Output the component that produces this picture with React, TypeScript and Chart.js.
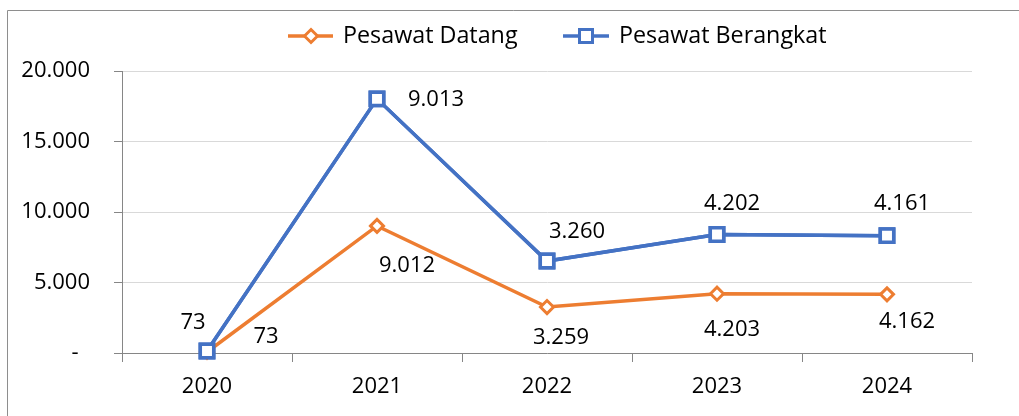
import React, { useEffect, useRef } from "react";
import { Chart, registerables } from "chart.js";

Chart.register(...registerables);

const years = ["2020", "2021", "2022", "2023", "2024"];
const pesawatDatang = [73, 9012, 3259, 4203, 4162];
const pesawatBerangkat = [73, 9013, 3260, 4202, 4161];
const yTicks = [0, 5000, 10000, 15000, 20000];

const ORANGE = "#ED7D31";
const BLUE = "#4472C4";
const FONT = "'Open Sans', 'Noto Sans', sans-serif";
const FS = 22;
const LEGEND_FS = 23.3;

// label offsets (px) relative to each point: [dx, dy]
const datangLabelOffsets = [[59, -15], [30, 40], [14, 31], [15, 36], [20, 27]];
const berangkatLabelOffsets = [[-14, -28], [59, 1], [30, -29], [15, -31], [15, -32]];

const fmt = (v: number) => String(Math.round(v)).replace(/\B(?=(\d{3})+(?!\d))/g, ".");

export default function App() {
  const ref = useRef<HTMLCanvasElement | null>(null);

  useEffect(() => {
    if (!ref.current) return;

    const overlay = {
      id: "overlay",
      afterDatasetsDraw(chart: any) {
        const ctx = chart.ctx;
        // redraw blue series on top
        chart.getDatasetMeta(1).controller.draw();
        ctx.save();
        ctx.font = `${FS}px ${FONT}`;
        ctx.fillStyle = "#000";
        ctx.textAlign = "center";
        ctx.textBaseline = "middle";
        const sets = [
          { meta: chart.getDatasetMeta(0), vals: pesawatDatang, offs: datangLabelOffsets },
          { meta: chart.getDatasetMeta(1), vals: pesawatBerangkat, offs: berangkatLabelOffsets },
        ];
        sets.forEach((s) => {
          s.meta.data.forEach((pt: any, i: number) => {
            ctx.fillText(fmt(s.vals[i]), pt.x + s.offs[i][0], pt.y + s.offs[i][1]);
          });
        });
        ctx.restore();
      },
      afterDraw(chart: any) {
        const ctx = chart.ctx;
        ctx.save();
        // frame
        ctx.strokeStyle = "#8e8e8e";
        ctx.lineWidth = 1;
        ctx.beginPath();
        ctx.moveTo(7.5, 420);
        ctx.lineTo(7.5, 10.5);
        ctx.lineTo(1019, 10.5);
        ctx.stroke();

        // legend
        const ly = 36;
        ctx.lineWidth = 3.5;
        ctx.strokeStyle = ORANGE;
        ctx.beginPath();
        ctx.moveTo(288, ly);
        ctx.lineTo(333, ly);
        ctx.stroke();
        ctx.fillStyle = "#fff";
        ctx.lineWidth = 3;
        ctx.beginPath();
        ctx.moveTo(311 - 6.5, ly);
        ctx.lineTo(311, ly - 6.5);
        ctx.lineTo(311 + 6.5, ly);
        ctx.lineTo(311, ly + 6.5);
        ctx.closePath();
        ctx.fill();
        ctx.stroke();

        ctx.lineWidth = 3.5;
        ctx.strokeStyle = BLUE;
        ctx.beginPath();
        ctx.moveTo(563, ly);
        ctx.lineTo(609, ly);
        ctx.stroke();
        ctx.lineWidth = 3;
        ctx.beginPath();
        ctx.rect(586 - 6.5, ly - 6.5, 13, 13);
        ctx.fill();
        ctx.stroke();

        ctx.font = `${LEGEND_FS}px ${FONT}`;
        ctx.fillStyle = "#000";
        ctx.textAlign = "left";
        ctx.textBaseline = "middle";
        ctx.fillText("Pesawat Datang", 343, ly);
        ctx.fillText("Pesawat Berangkat", 619, ly);
        ctx.restore();
      },
    };

    const chart = new Chart(ref.current, {
      type: "line",
      data: {
        labels: years,
        datasets: [
          {
            label: "Pesawat Datang",
            data: pesawatDatang,
            borderColor: ORANGE,
            backgroundColor: "#fff",
            borderWidth: 3.5,
            pointStyle: "rectRot",
            pointRadius: 6.5,
            pointBorderWidth: 3,
            pointBackgroundColor: "#fff",
            pointBorderColor: ORANGE,
            fill: false,
            tension: 0,
            clip: false,
          },
          {
            label: "Pesawat Berangkat",
            data: pesawatBerangkat,
            borderColor: BLUE,
            backgroundColor: "#fff",
            borderWidth: 3.5,
            pointStyle: "rect",
            pointRadius: 9.5,
            pointBorderWidth: 3.5,
            pointBackgroundColor: "#fff",
            pointBorderColor: BLUE,
            fill: false,
            tension: 0,
            clip: false,
          },
        ],
      },
      options: {
        animation: false,
        responsive: false,
        maintainAspectRatio: false,
        layout: { padding: { left: 0, right: 47, top: 71, bottom: 0 } },
        plugins: {
          legend: { display: false },
          tooltip: { enabled: false },
          title: { display: false },
        },
        scales: {
          x: {
            offset: true,
            grid: {
              offset: true,
              drawOnChartArea: false,
              drawTicks: true,
              tickLength: 9,
              tickColor: "#868686",
              lineWidth: 1,
            },
            border: { display: true, color: "#868686", width: 1 },
            ticks: { font: { family: FONT, size: FS }, color: "#000", padding: 12 },
            afterFit: (s: any) => {
              s.height = 63;
            },
          },
          y: {
            stacked: true,
            min: 0,
            max: 20000,
            afterBuildTicks: (s: any) => {
              s.ticks = yTicks.map((v) => ({ value: v }));
            },
            grid: {
              color: "#d9d9d9",
              lineWidth: 1,
              drawTicks: true,
              tickLength: 8,
              tickColor: "#868686",
            },
            border: { display: true, color: "#868686", width: 1 },
            ticks: {
              font: { family: FONT, size: FS },
              color: "#000",
              padding: 24,
              callback: (v: any) => (Number(v) === 0 ? "-  " : fmt(Number(v))),
            },
            afterFit: (s: any) => {
              s.width = 122;
            },
          },
        },
      },
      plugins: [overlay],
    });

    return () => chart.destroy();
  }, []);

  return (
    <div style={{ position: "fixed", left: 0, top: 0, width: 1019, height: 416, background: "#fff" }}>
      <canvas ref={ref} width={1019} height={416} style={{ width: 1019, height: 416, display: "block" }} />
    </div>
  );
}
